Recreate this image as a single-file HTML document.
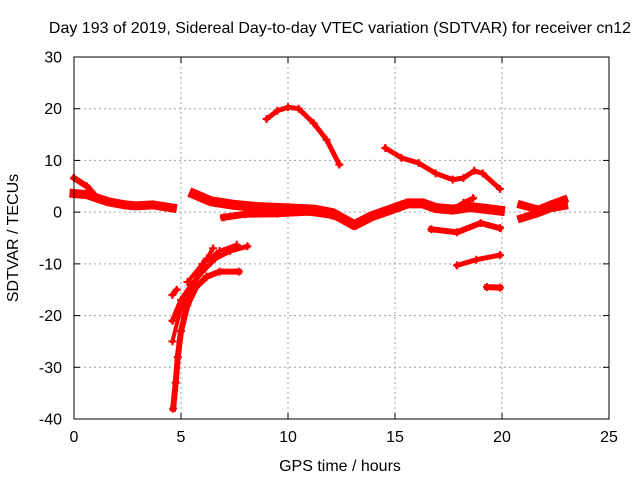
<!DOCTYPE html>
<html><head><meta charset="utf-8"><style>
body{margin:0;background:#fff;}
svg{display:block;font-family:"Liberation Sans",Arial,sans-serif;}
</style></head><body>
<svg id="chart" width="640" height="480" viewBox="0 0 640 480" xmlns="http://www.w3.org/2000/svg">
<text x="340" y="33" font-size="16" text-anchor="middle">Day 193 of 2019, Sidereal Day-to-day VTEC variation (SDTVAR) for receiver cn12</text>
<g id="grid"></g>
<g id="tracks"></g>
<g id="axes"></g>
<text x="340" y="471" font-size="16" text-anchor="middle">GPS time / hours</text>
<text x="0" y="0" font-size="16" text-anchor="middle" transform="translate(18,238) rotate(-90)">SDTVAR / TECUs</text>
</svg>
<script>
const xTicks = [0, 5, 10, 15, 20, 25];
const yTicks = [30, 20, 10, 0, -10, -20, -30, -40];
const trackArc = [[9.0,18.0],[9.5,19.6],[10.0,20.3],[10.5,20.0],[11.2,17.2],[11.8,14.0],[12.4,9.2]];
const trackHigh = [[14.55,12.4],[15.3,10.5],[16.1,9.5],[16.9,7.5],[17.7,6.3],[18.2,6.6],[18.7,8.0],[19.1,7.5],[19.9,4.5]];
const trackStartHi = [[0.0,6.6],[0.6,5.0],[1.1,2.7]];
const trackLeft = [[0.0,3.6],[0.6,3.4],[1.6,2.0],[2.4,1.4],[2.9,1.2],[3.7,1.4],[4.6,0.8]];
const trackMain = [[5.6,3.5],[6.4,2.1],[7.5,1.4],[8.5,1.0],[9.6,0.8],[11.2,0.5],[12.1,-0.2],[13.1,-2.5],[13.9,-0.8],[15.0,0.8],[15.6,1.7],[16.3,1.7],[16.9,0.8],[17.7,0.5],[18.5,1.0],[19.9,0.3]];
const trackMainLow = [[7.0,-1.0],[8.0,-0.4],[9.5,-0.3],[11.0,0.0],[12.0,-0.6],[13.0,-2.0]];
const trackBranch = [[17.7,0.6],[18.2,1.8],[18.65,2.7]];
const trackMid = [[16.7,-3.3],[17.9,-3.9],[19.0,-2.1],[19.9,-3.1]];
const trackLow = [[17.9,-10.3],[18.8,-9.2],[19.9,-8.3]];
const trackDot = [[19.3,-14.5],[19.9,-14.6]];
const trackRightA = [[20.9,1.4],[21.7,0.5],[22.3,1.5],[22.9,2.4]];
const trackRightB = [[20.9,-1.2],[21.6,-0.3],[22.3,0.8],[22.9,1.2]];
const trackDrop1 = [[4.63,-38.0],[4.75,-33.0],[4.85,-28.0],[5.0,-23.0],[5.3,-18.0],[5.7,-14.5],[6.2,-12.5],[6.8,-11.5],[7.7,-11.5]];
const trackDrop2 = [[4.6,-25.0],[4.9,-20.0],[5.3,-16.0],[5.8,-12.0],[6.2,-9.0],[6.5,-7.0]];
const trackDrop3 = [[4.6,-21.0],[5.0,-17.0],[5.5,-14.0],[6.0,-11.5],[6.6,-9.0],[7.3,-7.5],[8.1,-6.6]];
const trackDrop4 = [[4.6,-16.0],[4.8,-15.0]];
const trackDrop5 = [[5.3,-13.5],[6.0,-10.0],[6.8,-7.5],[7.6,-6.3]];

const tracks = [trackArc,trackHigh,trackStartHi,trackLeft,trackMain,trackMainLow,trackBranch,trackMid,trackLow,trackDot,trackRightA,trackRightB,trackDrop1,trackDrop2,trackDrop3,trackDrop4,trackDrop5];
const trackNames = ['arc','high','start-high','left','main','main-low','branch','mid','low','dot','right-a','right-b','drop-1','drop-2','drop-3','drop-4','drop-5'];
const widths = [5,5,6,9,10,7,5,6,5,6,8,8,6,4,5,5,4];

const L=74,R=609,T=57,B=419;
function xs(v){return L+(v-0)/25*(R-L);}
function ys(v){return T+(30-v)/70*(B-T);}
const NS='http://www.w3.org/2000/svg';
const grid=document.getElementById('grid'), axes=document.getElementById('axes'), tg=document.getElementById('tracks');
function mk(tag,attrs,parent){const e=document.createElementNS(NS,tag);for(const k in attrs)e.setAttribute(k,attrs[k]);parent.appendChild(e);return e;}

xTicks.forEach(t=>{
  const x=xs(t);
  if(t>0&&t<25){const g=mk('line',{x1:x,x2:x,y1:T,y2:B,stroke:'#a0a0a0','stroke-dasharray':'2,3','stroke-width':1},grid);
  
  }
  const a=mk('line',{x1:x,x2:x,y1:B,y2:B-6,stroke:'#000'},axes);
  
  
  const b=mk('line',{x1:x,x2:x,y1:T,y2:T+6,stroke:'#000'},axes);
  
  
  const l=mk('text',{x:x,y:B+23,'font-size':16,'text-anchor':'middle'},axes);
  l.textContent=t;
  
  
});
yTicks.forEach(t=>{
  const y=ys(t);
  if(t<30&&t>-40){const g=mk('line',{x1:L,x2:R,y1:y,y2:y,stroke:'#a0a0a0','stroke-dasharray':'2,3','stroke-width':1},grid);
  
  }
  const a=mk('line',{x1:L,x2:L+6,y1:y,y2:y,stroke:'#000'},axes);
  
  
  const b=mk('line',{x1:R,x2:R-6,y1:y,y2:y,stroke:'#000'},axes);
  
  
  const l=mk('text',{x:L-12,y:y+5.5,'font-size':16,'text-anchor':'end'},axes);
  l.textContent=t;
  
  
});
const border=mk('rect',{x:L,y:T,width:R-L,height:B-T,fill:'none',stroke:'#000','stroke-width':1},axes);



tracks.forEach((tr,i)=>{
  const pts=tr.map(p=>xs(p[0]).toFixed(1)+','+ys(p[1]).toFixed(1)).join(' ');
  const pl=mk('polyline',{points:pts,fill:'none',stroke:'#ff0000','stroke-width':widths[i],'stroke-linejoin':'round','stroke-linecap':'square'},tg);
  
  
  tr.forEach(p=>{
    const x=xs(p[0]),y=ys(p[1]);
    const m=mk('path',{d:`M${x-4},${y}H${x+4}M${x},${y-4}V${y+4}`,stroke:'#ff0000','stroke-width':2},tg);
    
    
  });
});
</script>
</body></html>
